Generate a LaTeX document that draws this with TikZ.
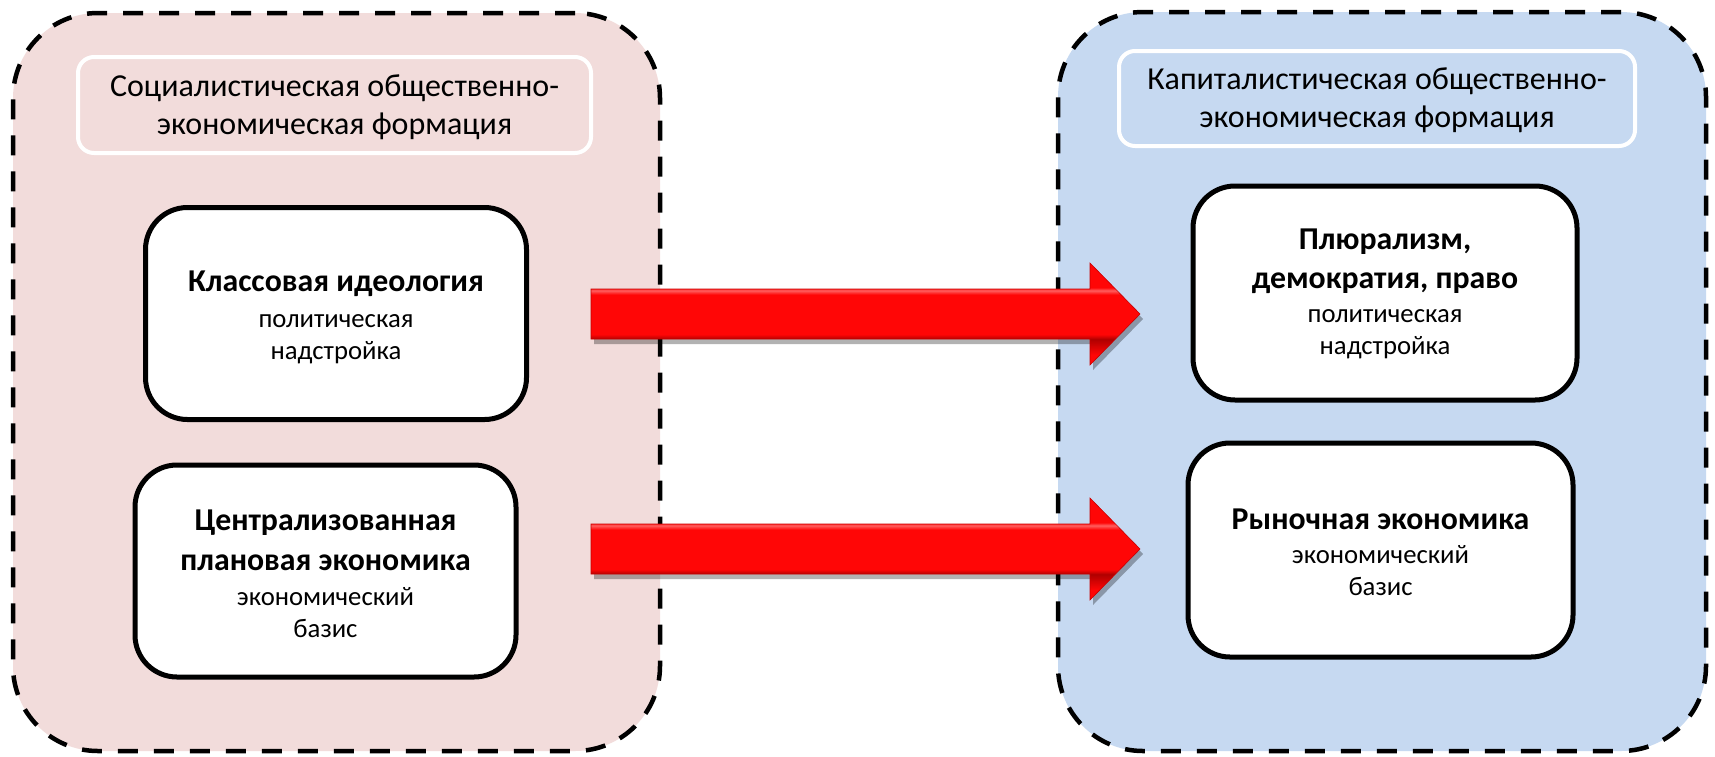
\documentclass[tikz,border=0pt]{standalone}
\usepackage{fontspec}
\setmainfont{Carlito}
\usetikzlibrary{calc,shadows}
\definecolor{pinkfill}{RGB}{242,220,219}
\definecolor{bluefill}{RGB}{198,217,241}
\definecolor{arrhi}{RGB}{255,95,95}
\definecolor{arrmid}{RGB}{255,6,6}
\definecolor{arrlo}{RGB}{175,0,0}
\pgfdeclareverticalshading{arrowshade}{100bp}{color(0bp)=(arrmid); color(30bp)=(arrmid);
  color(37.6bp)=(arrlo); color(40bp)=(arrmid); color(59.5bp)=(arrmid);
  color(61.5bp)=(arrhi); color(63bp)=(arrmid); color(100bp)=(arrmid)}
\tikzset{
  outerbox/.style={draw=black, line width=4.5pt, dash pattern=on 20pt off 16pt,
    rounded corners=85pt, inner sep=0pt},
  titlebox/.style={draw=white, line width=4pt, rounded corners=16pt, inner sep=0pt},
  titletext/.style={align=center, inner sep=0pt, font=\fontsize{32}{38}\selectfont},
  innerbox/.style={draw=black, fill=white, line width=5pt, rounded corners=42pt,
    inner sep=0pt},
  boxtext/.style={align=center, inner sep=0pt, font=\fontsize{26.7}{32}\selectfont},
  redarrow/.style={shading=arrowshade, draw=arrlo!70!red, line width=0.6pt,
    drop shadow={shadow xshift=3pt, shadow yshift=-5pt, opacity=0.3, fill=black}}
}
\newcommand{\bt}[1]{{\fontsize{31.8}{40}\selectfont\bfseries #1}}
\begin{document}
\begin{tikzpicture}[x=1pt,y=-1pt]
\useasboundingbox (0,0) rectangle (1715,756);
\fill[white] (0,0) rectangle (1715,756);
% outer frames
\node[outerbox, fill=pinkfill, minimum width=647pt, minimum height=738pt] (L) at (336.5,382) {};
\node[outerbox, fill=bluefill, minimum width=648pt, minimum height=739pt] (R) at (1382,381.5) {};
% titles
\node[titlebox, fill=pinkfill, minimum width=513pt, minimum height=96pt] (Lt) at (334.5,105) {};
\node[titletext] (Ltt) at ($(Lt)+(0,2)$) {Социалистическая общественно-\\экономическая формация};
\node[titlebox, fill=bluefill, minimum width=516pt, minimum height=95pt] (Rt) at (1377,98.5) {};
\node[titletext] (Rtt) at ($(Rt)+(0,2)$) {Капиталистическая общественно-\\экономическая формация};
% inner boxes
\node[innerbox, minimum width=381pt, minimum height=212pt] (L1) at (336,313.5) {};
\node[boxtext] (L1t) at ($(L1)+(0,4)$) {\bt{Классовая идеология}\\[4pt]политическая\\надстройка};
\node[innerbox, minimum width=381pt, minimum height=212pt] (L2) at (325.5,571) {};
\node[boxtext] (L2t) at ($(L2)+(0,3)$) {\bt{Централизованная}\\[8pt]\bt{плановая экономика}\\[3pt]экономический\\базис};
\node[innerbox, minimum width=384pt, minimum height=214pt] (R1) at (1385,293) {};
\node[boxtext] (R1t) at ($(R1)+(0,1)$) {\bt{Плюрализм,}\\[7pt]\bt{демократия, право}\\[2pt]политическая\\надстройка};
\node[innerbox, minimum width=385pt, minimum height=214pt] (R2) at (1380.5,550) {};
\node[boxtext] (R2t) at ($(R2)+(0,2)$) {\bt{Рыночная экономика}\\[2pt]экономический\\базис};
% arrows
\coordinate (a1s) at (591,314);
\coordinate (a1e) at (1140,314);
\coordinate (a2s) at (591,549);
\coordinate (a2e) at (1140,549);
\foreach \s/\e in {a1s/a1e,a2s/a2e}{
  \path[redarrow] ($(\s)+(0,-25)$) -- ($(\e)+(-50,-25)$) -- ($(\e)+(-50,-51)$)
    -- (\e) -- ($(\e)+(-50,51)$) -- ($(\e)+(-50,25)$) -- ($(\s)+(0,25)$) -- cycle;
}
\end{tikzpicture}
\end{document}
